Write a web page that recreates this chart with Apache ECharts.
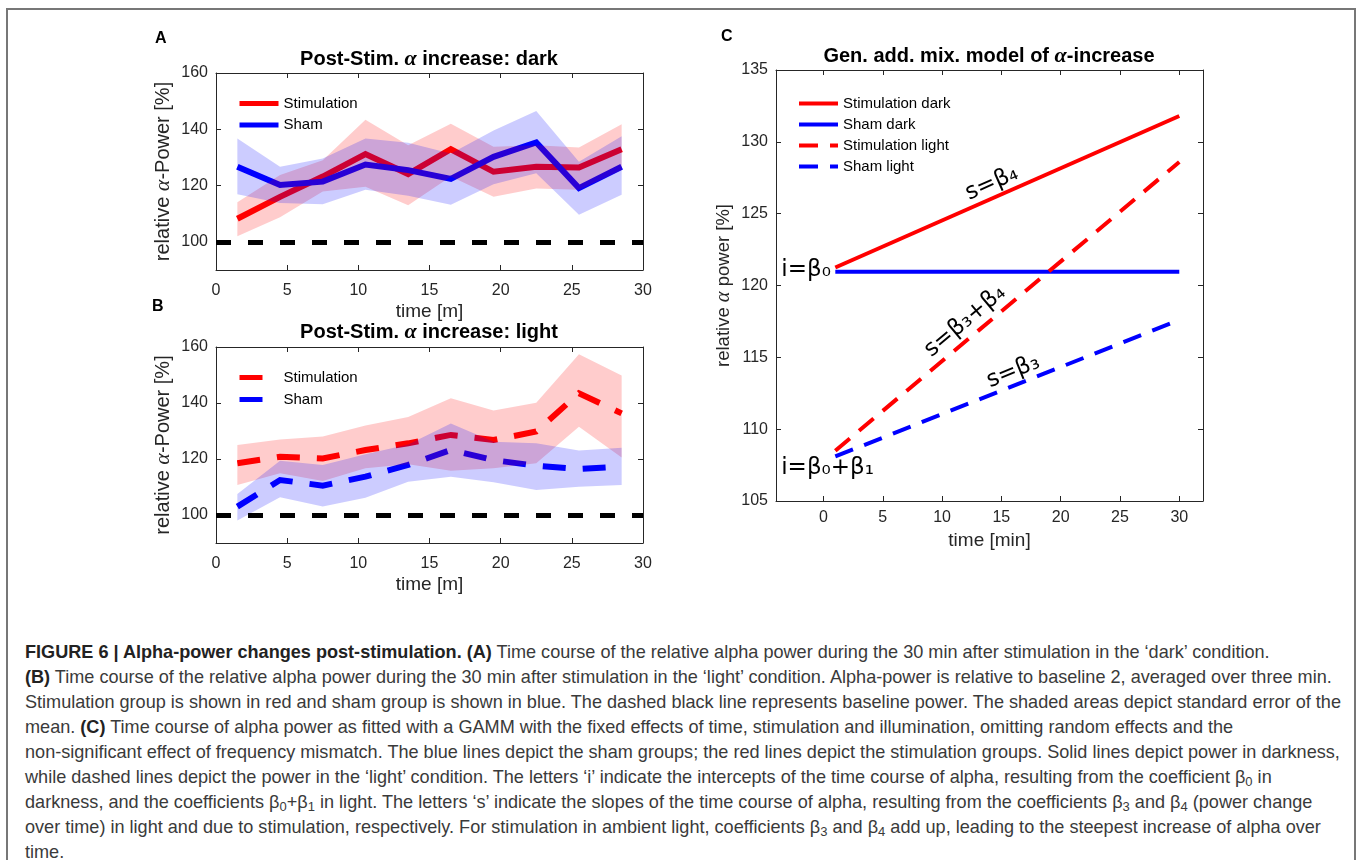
<!DOCTYPE html>
<html>
<head>
<meta charset="utf-8">
<script src="https://cdn.jsdelivr.net/npm/echarts@6/dist/echarts.min.js"></script>
<style>
  html, body { margin: 0; padding: 0; background: #fff; }
  #frame { position: absolute; left: 6px; top: 8px; width: 1350px; height: 870px; border: 2px solid #777; border-bottom: none; box-sizing: border-box; }
  #chart { position: absolute; left: 0; top: 0; width: 1358px; height: 620px; }
  #caption { position: absolute; left: 25px; top: 640px; font-family: "Liberation Sans", Arial, sans-serif; font-size: 18.1px; line-height: 25px; color: #3a3a3a; white-space: nowrap; }
  #caption b { color: #222; }
  #caption sub { font-size: 13px; vertical-align: -3px; line-height: 0; }
</style>
</head>
<body>
<div id="frame"></div>
<div id="chart"></div>
<div id="caption">
<div><b>FIGURE 6 | Alpha-power changes post-stimulation. (A)</b> Time course of the relative alpha power during the 30 min after stimulation in the ‘dark’ condition.</div>
<div><b>(B)</b> Time course of the relative alpha power during the 30 min after stimulation in the ‘light’ condition. Alpha-power is relative to baseline 2, averaged over three min.</div>
<div>Stimulation group is shown in red and sham group is shown in blue. The dashed black line represents baseline power. The shaded areas depict standard error of the</div>
<div>mean. <b>(C)</b> Time course of alpha power as fitted with a GAMM with the fixed effects of time, stimulation and illumination, omitting random effects and the</div>
<div>non-significant effect of frequency mismatch. The blue lines depict the sham groups; the red lines depict the stimulation groups. Solid lines depict power in darkness,</div>
<div>while dashed lines depict the power in the ‘light’ condition. The letters ‘i’ indicate the intercepts of the time course of alpha, resulting from the coefficient β<sub>0</sub> in</div>
<div>darkness, and the coefficients β<sub>0</sub>+β<sub>1</sub> in light. The letters ‘s’ indicate the slopes of the time course of alpha, resulting from the coefficients β<sub>3</sub> and β<sub>4</sub> (power change</div>
<div>over time) in light and due to stimulation, respectively. For stimulation in ambient light, coefficients β<sub>3</sub> and β<sub>4</sub> add up, leading to the steepest increase of alpha over</div>
<div>time.</div>
</div>
<script>
// time bins (min) for panels A and B
const timeAB = [1.5, 4.5, 7.5, 10.5, 13.5, 16.5, 19.5, 22.5, 25.5, 28.5];

// panel A: dark
const stimDark   = [108.2, 116.0, 123.2, 131.2, 124.1, 132.9, 124.9, 126.7, 126.4, 132.9];
const stimDarkLo = [102.0, 108.7, 117.9, 119.6, 113.0, 123.2, 116.0, 119.0, 118.5, 125.5];
const stimDarkHi = [114.1, 123.8, 129.0, 143.4, 134.3, 142.0, 133.8, 134.3, 133.5, 141.8];
const shamDark   = [126.7, 120.2, 121.4, 127.5, 125.5, 122.4, 130.2, 135.3, 119.1, 126.7];
const shamDarkLo = [116.9, 113.8, 113.4, 118.5, 116.4, 113.2, 120.5, 124.4, 109.6, 116.7];
const shamDarkHi = [136.7, 126.7, 129.6, 136.7, 135.2, 131.4, 139.6, 146.5, 128.5, 137.5];

// panel B: light
const stimLight   = [118.5, 120.8, 120.2, 123.2, 125.6, 128.6, 126.8, 129.8, 143.5, 136.3];
const stimLightLo = [110.7, 114.9, 112.1, 116.7, 118.1, 115.8, 116.7, 118.5, 131.5, 120.5];
const stimLightHi = [125.0, 127.0, 128.0, 132.0, 135.0, 141.7, 137.3, 140.1, 157.4, 149.8];
const shamLight   = [103.0, 112.5, 110.5, 113.7, 117.9, 123.2, 119.6, 117.6, 116.4, 117.3];
const shamLightLo = [98.0, 106.3, 103.0, 106.2, 111.9, 113.7, 111.7, 108.9, 110.1, 110.7];
const shamLightHi = [107.5, 119.4, 117.9, 121.7, 125.2, 132.7, 126.2, 125.6, 123.0, 124.0];

const baselineLevel = 100;

// panel C: GAMM fit
const timeC = [1, 30];
const stimDarkFit  = [121.25, 131.8];
const shamDarkFit  = [120.95, 120.95];
const stimLightFit = [108.5, 128.6];
const shamLightFit = [108.1, 117.6];

// tick labels
const ticksAB_x = [0, 5, 10, 15, 20, 25, 30];
const ticksAB_y = [100, 120, 140, 160];
const ticksC_x = [0, 5, 10, 15, 20, 25, 30];
const ticksC_y = [105, 110, 115, 120, 125, 130, 135];

// annotations in panel C: [text, x, y, angle]
const annotations = [
  ['i=β₀', -1.46, 121.1, 0],
  ['i=β₀+β₁', 0.35, 107.3, 0],
  ['s=β₄', 14.2, 127.1, 23.8],
  ['s=β₃+β₄', 11.95, 117.5, 40],
  ['s=β₃', 16.0, 114.0, 22]
];

const RED = '#ff0000';
const BLUE = '#0000ff';
const AX = '#262626';
const FONT = 'Liberation Sans';

const pairs = (xs, ys) => xs.map((x, i) => [x, ys[i]]);

const grids = [
  {left: 216, top: 73, width: 427, height: 197},
  {left: 216, top: 347, width: 427, height: 196},
  {left: 776, top: 70, width: 427, height: 431}
];

function mainX(gi, min, max, ticks, name, gap, margin) {
  return {
    type: 'value', gridIndex: gi, position: 'bottom', min: min, max: max,
    name: name, nameLocation: 'middle', nameGap: gap,
    nameTextStyle: {fontFamily: FONT, fontSize: 19, color: AX},
    axisLine: {show: true, onZero: false, lineStyle: {color: AX, width: 1}},
    axisTick: {show: true, inside: true, length: 5, customValues: ticks, lineStyle: {color: AX}},
    axisLabel: {customValues: ticks, fontFamily: FONT, fontSize: 16, color: AX, margin: margin},
    splitLine: {show: false}
  };
}
function mirrorX(gi, min, max, ticks) {
  return {
    type: 'value', gridIndex: gi, position: 'top', min: min, max: max,
    axisLine: {show: true, onZero: false, lineStyle: {color: AX, width: 1}},
    axisTick: {show: true, inside: true, length: 5, customValues: ticks, lineStyle: {color: AX}},
    axisLabel: {show: false}, splitLine: {show: false}
  };
}
function mainY(gi, min, max, ticks, name, gap, fs) {
  return {
    type: 'value', gridIndex: gi, position: 'left', min: min, max: max,
    name: name, nameLocation: 'middle', nameGap: gap,
    nameTextStyle: {fontFamily: FONT, fontSize: fs, color: AX,
      rich: {a: {fontFamily: 'Liberation Serif', fontStyle: 'italic', fontSize: fs + 2, color: AX}}},
    axisLine: {show: true, onZero: false, lineStyle: {color: AX, width: 1}},
    axisTick: {show: true, inside: true, length: 5, customValues: ticks, lineStyle: {color: AX}},
    axisLabel: {customValues: ticks, fontFamily: FONT, fontSize: 16, color: AX, margin: 8},
    splitLine: {show: false}
  };
}
function mirrorY(gi, min, max, ticks) {
  return {
    type: 'value', gridIndex: gi, position: 'right', min: min, max: max,
    axisLine: {show: true, onZero: false, lineStyle: {color: AX, width: 1}},
    axisTick: {show: true, inside: true, length: 5, customValues: ticks, lineStyle: {color: AX}},
    axisLabel: {show: false}, splitLine: {show: false}
  };
}

function lineSeries(name, xi, data, color, width, dash) {
  return {
    name: name, type: 'line', xAxisIndex: xi, yAxisIndex: xi, data: data,
    symbol: 'none', z: 2, silent: true,
    lineStyle: {color: color, width: width, type: dash || 'solid', cap: 'butt', join: 'miter'},
    itemStyle: {color: color}
  };
}
// shaded error band drawn as one polygon on top of the lines
function bandSeries(xi, lo, hi, color) {
  return {
    type: 'custom', xAxisIndex: xi, yAxisIndex: xi, z: 3, silent: true,
    data: timeAB.map((t, i) => [t, lo[i], hi[i]]),
    encode: {x: 0, y: [1, 2]},
    renderItem: (params, api) => {
      if (params.dataIndex !== 0) return null;
      const upper = timeAB.map((t, i) => api.coord([t, hi[i]]));
      const lower = timeAB.map((t, i) => api.coord([t, lo[i]])).reverse();
      return {type: 'polygon', shape: {points: upper.concat(lower)}, style: {fill: color}};
    }
  };
}
const baselineMark = {
  silent: true, symbol: ['none', 'none'], label: {show: false},
  lineStyle: {color: '#000', width: 5, type: [15, 17], cap: 'butt'},
  data: [{yAxis: baselineLevel}]
};

function titleAt(x, y, text, size) {
  return {
    text: text, left: x, top: y, textAlign: 'center', padding: 0,
    textStyle: {fontFamily: FONT, fontWeight: 'bold', fontSize: size, color: '#000',
      rich: {a: {fontFamily: 'Liberation Serif', fontStyle: 'italic', fontWeight: 'bold', fontSize: size + 2, color: '#000'}}}
  };
}
function letterAt(x, y, text) {
  return {text: text, left: x, top: y, padding: 0, textStyle: {fontFamily: FONT, fontWeight: 'bold', fontSize: 16, color: '#000'}};
}

function legendAt(x, y, names, gap, lw) {
  return {
    orient: 'vertical', left: x, top: y, padding: 0, itemWidth: 39, itemHeight: 14, itemGap: gap,
    selectedMode: false, data: names,
    formatter: n => n.replace(/^[ABC] /, ''),
    textStyle: {fontFamily: FONT, fontSize: 15, color: '#000'},
    lineStyle: {width: lw},
    itemStyle: {opacity: 0}
  };
}

const chart = echarts.init(document.getElementById('chart'));

const option = {
  backgroundColor: 'transparent',
  animation: false,
  title: [
    letterAt(155, 31, 'A'),
    letterAt(152, 299, 'B'),
    letterAt(721, 29, 'C'),
    titleAt(429, 48, 'Post-Stim. {a|α} increase: dark', 20),
    titleAt(429, 321, 'Post-Stim. {a|α} increase: light', 20),
    titleAt(989, 45, 'Gen. add. mix. model of {a|α}-increase', 20)
  ],
  legend: [
    legendAt(237, 96, ['A Stimulation', 'A Sham'], 6.6, 5),
    legendAt(237, 370, ['B Stimulation', 'B Sham'], 7, 5),
    legendAt(797, 96, ['C Stimulation dark', 'C Sham dark', 'C Stimulation light', 'C Sham light'], 6, 4)
  ],
  grid: grids,
  xAxis: [
    mainX(0, 0, 30, ticksAB_x, 'time [m]', 32, 13),
    mainX(1, 0, 30, ticksAB_x, 'time [m]', 32, 13),
    mainX(2, -4, 32, ticksC_x, 'time [min]', 28, 9),
    mirrorX(0, 0, 30, ticksAB_x),
    mirrorX(1, 0, 30, ticksAB_x),
    mirrorX(2, -4, 32, ticksC_x)
  ],
  yAxis: [
    mainY(0, 90, 160, ticksAB_y, 'relative {a|α}-Power [%]', 42, 20),
    mainY(1, 90, 160, ticksAB_y, 'relative {a|α}-Power [%]', 42, 20),
    mainY(2, 105, 135, ticksC_y, 'relative {a|α} power [%]', 42, 18.5),
    mirrorY(0, 90, 160, ticksAB_y),
    mirrorY(1, 90, 160, ticksAB_y),
    mirrorY(2, 105, 135, ticksC_y)
  ],
  series: [
    // panel A
    Object.assign(lineSeries('A Stimulation', 0, pairs(timeAB, stimDark), RED, 6), {markLine: baselineMark}),
    lineSeries('A Sham', 0, pairs(timeAB, shamDark), BLUE, 6),
    bandSeries(0, stimDarkLo, stimDarkHi, 'rgba(255,0,0,0.2)'),
    bandSeries(0, shamDarkLo, shamDarkHi, 'rgba(0,0,255,0.2)'),
    // panel B
    Object.assign(lineSeries('B Stimulation', 1, pairs(timeAB, stimLight), RED, 6, [23, 17]), {markLine: baselineMark}),
    lineSeries('B Sham', 1, pairs(timeAB, shamLight), BLUE, 6, [23, 17]),
    bandSeries(1, stimLightLo, stimLightHi, 'rgba(255,0,0,0.2)'),
    bandSeries(1, shamLightLo, shamLightHi, 'rgba(0,0,255,0.2)'),
    // panel C
    lineSeries('C Stimulation dark', 2, pairs(timeC, stimDarkFit), RED, 4),
    Object.assign(lineSeries('C Sham dark', 2, pairs(timeC, shamDarkFit), BLUE, 4), {
      markPoint: {
        silent: true, symbol: 'circle', symbolSize: 0,
        label: {show: true, position: 'inside', fontFamily: 'DejaVu Sans', fontSize: 23, color: '#000'},
        data: annotations.map(a => ({
          coord: [a[1], a[2]],
          label: {formatter: a[0], rotate: a[3]}
        }))
      }
    }),
    lineSeries('C Stimulation light', 2, pairs(timeC, stimLightFit), RED, 4, [19, 12]),
    lineSeries('C Sham light', 2, pairs(timeC, shamLightFit), BLUE, 4, [19, 12])
  ]
};

chart.setOption(option);
</script>
</body>
</html>
